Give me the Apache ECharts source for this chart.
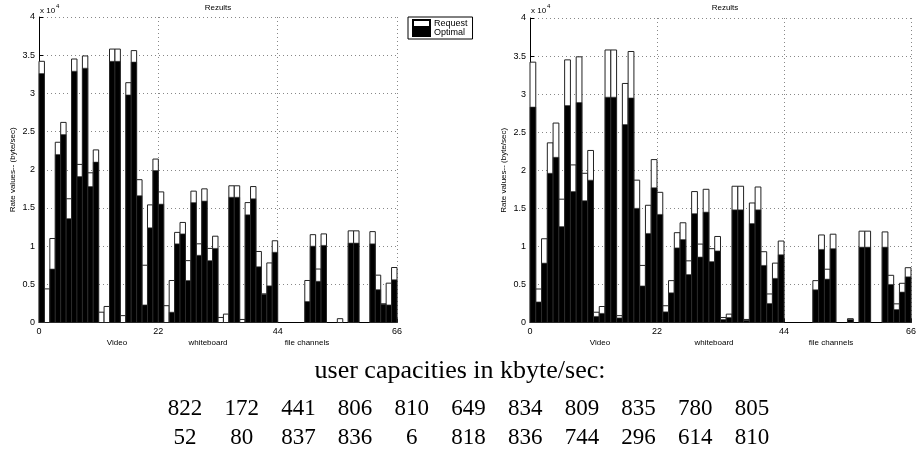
<!DOCTYPE html>
<html>
<head>
<meta charset="utf-8">
<script src="https://cdn.jsdelivr.net/npm/echarts@6/dist/echarts.min.js"></script>
<style>
  html, body { margin: 0; padding: 0; background: #fff; }
  #chart { width: 919px; height: 459px; }
</style>
</head>
<body>
<div id="chart"></div>
<script>
  // rate values in byte/sec, one bar per channel (0..65)
  const requestRates = [
    34200, 4400, 11000, 23600, 26200, 16200, 34500, 20700, 34900, 19600, 22600,
    1350, 2100, 35800, 35800, 900, 31400, 35600, 18700, 7500, 15400, 21400,
    17100, 2200, 5500, 11800, 13100, 8100, 17200, 10300, 17500, 9700, 11300,
    660, 1100, 17900, 17900, 400, 15700, 17800, 9300, 3750, 7800, 10700,
    0, 0, 0, 0, 0, 5500, 11500, 7000, 11600, 0, 0,
    500, 0, 12000, 12000, 0, 0, 11900, 6200, 2450, 5150, 7200
  ];
  const optimalLeft = [
    32600, 0, 7000, 22000, 24600, 13600, 32900, 19100, 33300, 17800, 21000,
    0, 0, 34200, 34200, 0, 29800, 34100, 16600, 2300, 12400, 19900,
    15500, 0, 1350, 10300, 11600, 5500, 15700, 8800, 15900, 8100, 9700,
    0, 0, 16400, 16400, 0, 14100, 16200, 7300, 3700, 4800, 9200,
    0, 0, 0, 0, 0, 2750, 10000, 5400, 10100, 0, 0,
    0, 0, 10400, 10400, 0, 0, 10300, 4300, 2400, 2300, 5600
  ];
  const optimalRight = [
    28300, 2700, 7800, 19600, 21700, 12600, 28500, 17200, 28900, 16000, 18700,
    800, 1200, 29600, 29600, 600, 26000, 29500, 15000, 4800, 11700, 17700,
    14200, 1400, 3900, 9800, 10900, 6300, 14300, 8600, 14500, 8000, 9400,
    400, 660, 14800, 14800, 300, 13000, 14800, 7500, 2500, 5800, 8900,
    0, 0, 0, 0, 0, 4300, 9600, 5700, 9700, 0, 0,
    400, 0, 9900, 9900, 0, 0, 9900, 5000, 1700, 4000, 6000
  ];
  const xTicks = [0, 22, 44, 66];
  const yTickLabels = ["0", "0.5", "1", "1.5", "2", "2.5", "3", "3.5", "4"];
  const channelGroups = ["Video", "whiteboard", "file channels"];
  const capacityRow1 = [822, 172, 441, 806, 810, 649, 834, 809, 835, 780, 805];
  const capacityRow2 = [52, 80, 837, 836, 6, 818, 836, 744, 296, 614, 810];

  const sans = "Liberation Sans, Arial, sans-serif";
  const serif = "Liberation Serif, DejaVu Serif, serif";

  const panels = [
    { left: 39, width: 358, top: 17, height: 305.5, optimal: optimalLeft, groupX: [117, 208, 307] },
    { left: 530, width: 390, top: 18, height: 304.5, optimal: optimalRight, groupX: [600, 714, 831] }
  ];

  function toPairs(values) {
    return values.map((v, i) => [i, v]);
  }

  function barRenderer(fill, stroke, lineWidth) {
    return function (params, api) {
      const i = api.value(0);
      const v = api.value(1);
      if (!v) return null;
      const p0 = api.coord([i, v]);
      const p1 = api.coord([i + 1, 0]);
      return {
        type: "rect",
        shape: { x: p0[0], y: p0[1], width: p1[0] - p0[0], height: p1[1] - p0[1] },
        style: { fill: fill, stroke: stroke, lineWidth: lineWidth }
      };
    };
  }

  const dotted = { color: "#888", width: 1, type: [1, 3] };

  const grids = panels.map((p) => ({ left: p.left, width: p.width, top: p.top, height: p.height }));

  const xAxes = panels.map((p, k) => ({
    type: "value",
    gridIndex: k,
    min: 0,
    max: xTicks[xTicks.length - 1],
    interval: xTicks[1] - xTicks[0],
    axisLine: { lineStyle: { color: "#000", width: 1 } },
    axisTick: { inside: true, length: 4, lineStyle: { color: "#000" } },
    axisLabel: { color: "#000", fontSize: 9, fontFamily: sans, margin: 5 },
    splitLine: { show: true, lineStyle: dotted }
  }));

  const yAxes = panels.map((p, k) => ({
    type: "value",
    gridIndex: k,
    min: 0,
    max: 40000,
    interval: 5000,
    name: "Rate values-- (byte/sec)",
    nameLocation: "middle",
    nameRotate: 90,
    nameGap: 22,
    nameTextStyle: { color: "#000", fontSize: 8, fontFamily: sans },
    axisLine: { show: true, lineStyle: { color: "#000", width: 1 } },
    axisTick: { show: true, inside: true, length: 4, lineStyle: { color: "#000" } },
    axisLabel: {
      color: "#000", fontSize: 9, fontFamily: sans, margin: 4,
      formatter: (v) => yTickLabels[Math.round(v / 5000)]
    },
    splitLine: { show: true, lineStyle: dotted }
  }));

  const series = [];
  panels.forEach((p, k) => {
    series.push({
      name: "Request",
      type: "custom",
      xAxisIndex: k,
      yAxisIndex: k,
      renderItem: barRenderer("#fff", "#222", 1),
      itemStyle: { color: "#fff", borderColor: "#000", borderWidth: 1 },
      encode: { x: 0, y: 1 },
      data: toPairs(requestRates),
      silent: true
    });
    series.push({
      name: "Optimal",
      type: "custom",
      xAxisIndex: k,
      yAxisIndex: k,
      renderItem: barRenderer("#000", "#3a3a3a", 0.6),
      itemStyle: { color: "#000", borderColor: "#000", borderWidth: 1 },
      encode: { x: 0, y: 1 },
      data: toPairs(p.optimal),
      silent: true
    });
  });

  const graphics = [];
  panels.forEach((p) => {
    graphics.push({
      type: "text", x: p.left + p.width / 2, y: 8,
      style: { text: "Rezults", fill: "#000", font: "8px " + sans, textAlign: "center", textVerticalAlign: "middle" }
    });
    graphics.push({
      type: "text", x: p.left + 1, y: 11,
      style: { text: "x 10", fill: "#000", font: "8px " + sans, textAlign: "left", textVerticalAlign: "middle" }
    });
    graphics.push({
      type: "text", x: p.left + 17, y: 6,
      style: { text: "4", fill: "#000", font: "6px " + sans, textAlign: "left", textVerticalAlign: "middle" }
    });
    channelGroups.forEach((g, j) => {
      graphics.push({
        type: "text", x: p.groupX[j], y: 343,
        style: { text: g, fill: "#000", font: "8px " + sans, textAlign: "center", textVerticalAlign: "middle" }
      });
    });
  });

  graphics.push({
    type: "text", x: 460, y: 371,
    style: { text: "user capacities in kbyte/sec:", fill: "#000", font: "26px " + serif, textAlign: "center", textVerticalAlign: "middle" }
  });
  [capacityRow1, capacityRow2].forEach((row, r) => {
    row.forEach((val, j) => {
      graphics.push({
        type: "text", x: 185 + j * 56.7, y: 409 + r * 29,
        style: { text: String(val), fill: "#000", font: "23px " + serif, textAlign: "center", textVerticalAlign: "middle" }
      });
    });
  });

  const chart = echarts.init(document.getElementById("chart"), null, { renderer: "canvas" });
  chart.setOption({
    animation: false,
    backgroundColor: "#fff",
    grid: grids,
    xAxis: xAxes,
    yAxis: yAxes,
    legend: {
      data: ["Request", "Optimal"],
      left: 408,
      top: 17,
      orient: "vertical",
      icon: "rect",
      itemWidth: 17,
      itemHeight: 7,
      itemGap: 0,
      padding: [2, 5, 2, 4],
      borderColor: "#000",
      borderWidth: 1,
      backgroundColor: "#fff",
      textStyle: { color: "#000", fontSize: 9, fontFamily: sans, padding: [0, 0, 0, -1] },
      selectedMode: false
    },
    graphic: graphics,
    series: series
  });
</script>
</body>
</html>
